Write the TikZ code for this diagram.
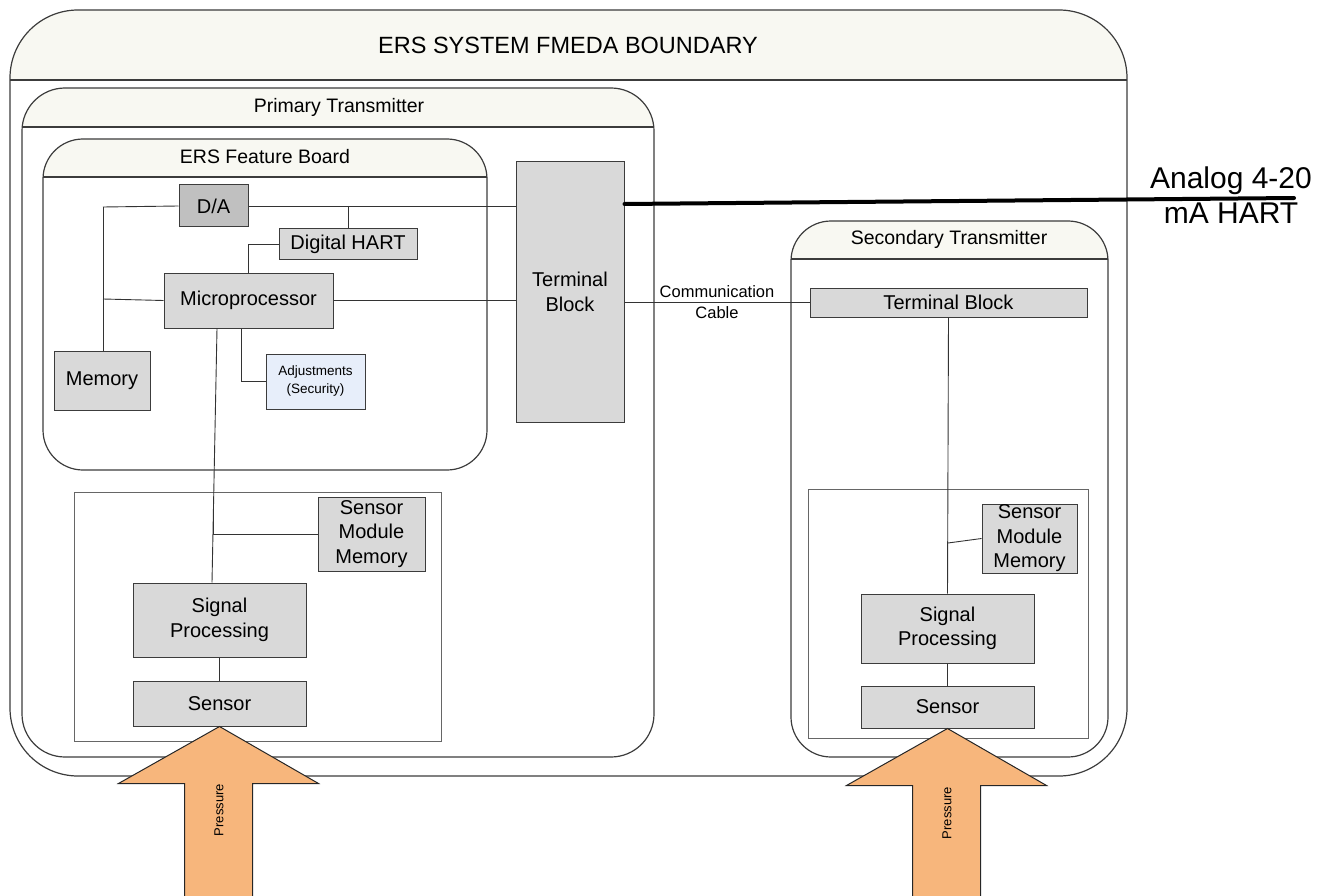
\documentclass[tikz,border=0pt]{standalone}
\usepackage{fontspec}
\setmainfont{Liberation Sans}
\usepackage{tikz}

\definecolor{hdrfill}{RGB}{248,248,242}
\definecolor{boxfill}{RGB}{217,217,217}
\definecolor{dafill}{RGB}{192,192,192}
\definecolor{adjfill}{RGB}{231,238,250}
\definecolor{arrowfill}{RGB}{247,182,124}
\definecolor{edge}{RGB}{60,60,60}

\begin{document}
\begin{tikzpicture}[x=1pt, y=1pt,
    box/.style={draw=edge, line width=1pt, fill=boxfill, inner sep=0pt, align=center,
                font=\fontsize{20}{24.5}\selectfont},
    wire/.style={draw=black!80, line width=0.9pt},
    frame/.style={draw=edge, line width=1.2pt},
    pressure/.style={draw=black!85, line width=1pt, fill=arrowfill},
    title/.style={font=\fontsize{19.5}{23}\selectfont}]

    \useasboundingbox (0,0) rectangle (1328,-896);

    % System boundary
    \begin{scope}
        \clip (10,-10) rectangle (1127,-80);
        \fill[hdrfill, rounded corners=68pt] (10,-10) rectangle (1127,-776);
    \end{scope}
    \draw[frame, rounded corners=68pt] (10,-10) rectangle (1127,-776);
    \draw[frame] (10,-80) -- (1127,-80);
    \node[font=\fontsize{23.5}{27}\selectfont] (sysname) at (568,-45) {ERS SYSTEM FMEDA BOUNDARY};

    % Primary transmitter
    \begin{scope}
        \clip (22,-88) rectangle (654,-127);
        \fill[hdrfill, rounded corners=43pt] (22,-88) rectangle (654,-757);
    \end{scope}
    \draw[frame, rounded corners=43pt] (22,-88) rectangle (654,-757);
    \draw[frame] (22,-127) -- (654,-127);
    \node[title] (primname) at (339,-107) {Primary Transmitter};

    % Feature board
    \begin{scope}
        \clip (43,-139) rectangle (487,-177);
        \fill[hdrfill, rounded corners=40pt] (43,-139) rectangle (487,-470);
    \end{scope}
    \draw[frame, rounded corners=40pt] (43,-139) rectangle (487,-470);
    \draw[frame] (43,-177) -- (487,-177);
    \node[title] (boardname) at (265,-157) {ERS Feature Board};

    % Secondary transmitter
    \begin{scope}
        \clip (791,-221) rectangle (1108,-259);
        \fill[hdrfill, rounded corners=40pt] (791,-221) rectangle (1108,-757);
    \end{scope}
    \draw[frame, rounded corners=40pt] (791,-221) rectangle (1108,-757);
    \draw[frame] (791,-259) -- (1108,-259);
    \node[title] (secname) at (949,-239) {Secondary Transmitter};

    % Sensor modules
    \draw[frame, draw=black!60, line width=1pt] (74,-492) rectangle (441,-741);
    \draw[frame, draw=black!60, line width=1pt] (808,-489) rectangle (1088,-738);

    % Blocks of the primary transmitter
    \node[box, fill=dafill, minimum width=69pt, minimum height=42pt] (DA) at (213.5,-206) {D/A};
    \node[box, minimum width=138pt, minimum height=30pt] (HART) at (348,-244) {Digital HART};
    \node[box, minimum width=169pt, minimum height=55pt] (Micro) at (248.5,-300.5) {Microprocessor};
    \node[box, minimum width=96pt, minimum height=59pt] (Memory) at (102,-380.5) {Memory};
    \node[box, fill=adjfill, minimum width=99pt, minimum height=55pt,
          font=\fontsize{13.5}{18}\selectfont] (Adjust) at (315.5,-381.5) {Adjustments\\(Security)};
    \node[box, minimum width=108pt, minimum height=260pt] (TB) at (570,-292) {Terminal\\Block};
    \node[box, minimum width=107pt, minimum height=74pt] (SMM) at (371.5,-534) {Sensor\\Module\\Memory};
    \node[box, minimum width=173pt, minimum height=74pt] (Signal) at (219.5,-620) {Signal\\Processing};
    \node[box, minimum width=173pt, minimum height=45pt] (Sensor) at (219.5,-703.5) {Sensor};

    % Blocks of the secondary transmitter
    \node[box, minimum width=277pt, minimum height=29pt] (TBtwo) at (948.5,-302.5) {Terminal Block};
    \node[box, minimum width=95pt, minimum height=69pt] (SMMtwo) at (1029.5,-538.5) {Sensor\\Module\\Memory};
    \node[box, minimum width=173pt, minimum height=69pt] (Signaltwo) at (947.5,-628.5) {Signal\\Processing};
    \node[box, minimum width=173pt, minimum height=42pt] (Sensortwo) at (947.5,-707) {Sensor};

    % Wiring on the feature board
    \coordinate (bustop) at (103,-207);
    \coordinate (busmid) at (103,-299);
    \draw[wire] (bustop) -- (bustop |- Memory.north);
    \draw[wire] (bustop) -- (DA.west);
    \draw[wire] (busmid) -- (Micro.west);
    \draw[wire] (DA.east) -- (DA.east -| TB.west);
    \draw[wire] (HART.north |- DA.east) -- (HART.north);
    \draw[wire] (HART.west) -| (Micro.north);
    \draw[wire] (Micro.east) -- (Micro.east -| TB.west);
    \draw[wire] ([xshift=-7.5pt]Micro.south) |- (Adjust.west);

    % Wiring to the sensor module
    \coordinate (smmtap) at (213,-508);
    \draw[wire] ([xshift=-31.5pt]Micro.south) -- ([xshift=-7.5pt]Signal.north);
    \draw[wire] (smmtap) |- (SMM.west);
    \draw[wire] (Signal.south) -- (Sensor.north);

    % Secondary wiring
    \coordinate (smmtaptwo) at (948,-543);
    \draw[wire] (TBtwo.south) -- (Signaltwo.north);
    \draw[wire] (smmtaptwo) -- (SMMtwo.west);
    \draw[wire] (Signaltwo.south) -- (Sensortwo.north);

    % Communication cable
    \draw[wire] (TB.east |- TBtwo.west) -- (TBtwo.west)
        node[midway, align=center, font=\fontsize{16.5}{21}\selectfont] (cable) {Communication\\Cable};

    % Analog output
    \node[align=center, font=\fontsize{30}{35}\selectfont] (analog) at (1231,-195) {Analog 4-20\\mA HART};
    \coordinate (analogend) at (1294,-198);
    \draw[line width=4pt, line cap=round] ([yshift=88pt]TB.east) -- (analogend);

    % Pressure inputs
    \draw[pressure] (Sensor.south) -- ++(99,-57) -- ++(-66,0) -- ++(0,-114) -- ++(-68,0)
        -- ++(0,114) -- ++(-66,0) -- cycle;
    \node[rotate=90, font=\fontsize{13}{15}\selectfont] (pressone) at (219,-810) {Pressure};
    \draw[pressure] (Sensortwo.south) -- ++(99,-57) -- ++(-66,0) -- ++(0,-114) -- ++(-68,0)
        -- ++(0,114) -- ++(-66,0) -- cycle;
    \node[rotate=90, font=\fontsize{13}{15}\selectfont] (presstwo) at (947,-813) {Pressure};
\end{tikzpicture}
\end{document}
